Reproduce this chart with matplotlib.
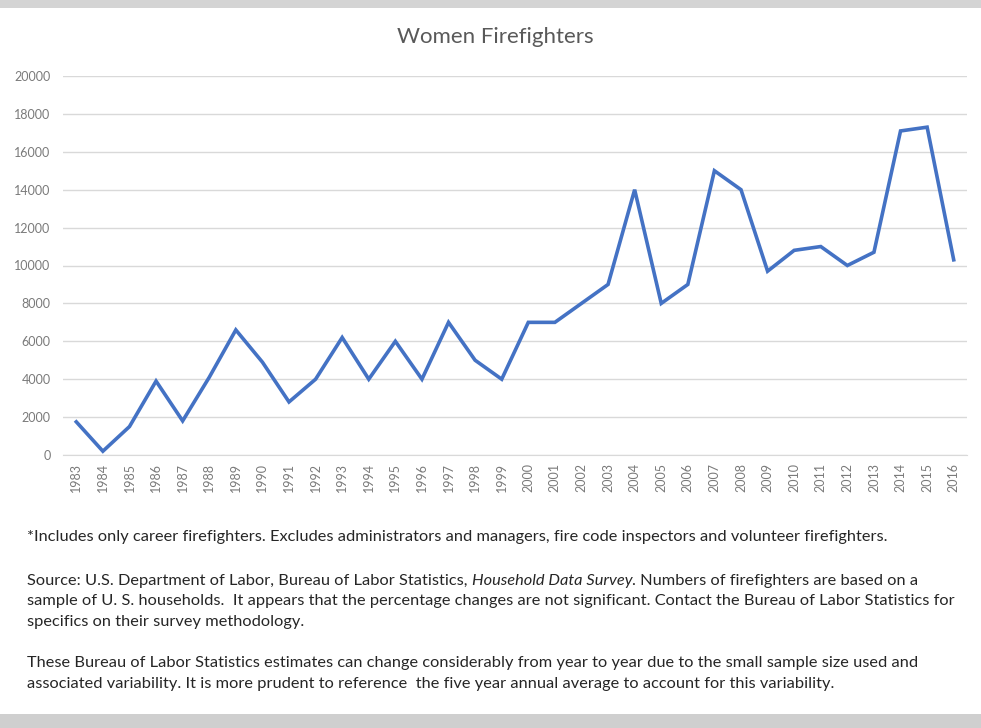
import matplotlib

matplotlib.use("Agg")
import matplotlib.pyplot as plt
from matplotlib.patches import Rectangle

years = [str(y) for y in range(1983, 2017)]
women = [1750, 200, 1500, 3900, 1800, 4100, 6600, 4900, 2800, 4000,
         6200, 4000, 6000, 4000, 7000, 5000, 4000, 7000, 7000, 8000,
         9000, 14000, 8000, 9000, 15000, 14000, 9700, 10800, 11000, 10000,
         10700, 17100, 17300, 10300]
y_ticks = list(range(0, 20001, 2000))

title = "Women Firefighters"
note_line = ("*Includes only career firefighters. Excludes administrators and managers, "
             "fire code inspectors and volunteer firefighters.")
source_head = "Source: U.S. Department of Labor, Bureau of Labor Statistics, "
source_italic = "Household Data Survey"
source_tail = ". Numbers of firefighters are based on a"
source_lines = [
    "sample of U. S. households.  It appears that the percentage changes are not significant. "
    "Contact the Bureau of Labor Statistics for",
    "specifics on their survey methodology.",
]
caution_lines = [
    "These Bureau of Labor Statistics estimates can change considerably from year to year "
    "due to the small sample size used and",
    "associated variability. It is more prudent to reference  the five year annual average "
    "to account for this variability.",
]

W, H = 981, 728
fig = plt.figure(figsize=(W / 100, H / 100), dpi=100)
fig.patch.set_facecolor("white")

# grey frame strips of the screenshot
fig.patches.append(Rectangle((0, 1 - 8 / H), 1, 8 / H, transform=fig.transFigure,
                             facecolor="#d4d4d4", edgecolor="none"))
fig.patches.append(Rectangle((0, 0), 1, 14 / H, transform=fig.transFigure,
                             facecolor="#cfcfcf", edgecolor="none"))

ax = fig.add_axes([63 / W, (H - 455) / H, (967 - 63) / W, (455 - 76) / H])
x = list(range(len(years)))
ax.plot(x, women, color="#4472c4", linewidth=2.6, solid_joinstyle="miter")
ax.set_xlim(-0.5, len(years) - 0.5)
ax.set_ylim(0, 20000)
ax.set_yticks(y_ticks)
ax.set_yticklabels([str(v) for v in y_ticks])
ax.set_xticks(x)
ax.set_xticklabels(years, rotation=90)
ax.tick_params(axis="both", length=0, labelsize=9, labelcolor="#7a7a7a")
ax.tick_params(axis="y", pad=9)
ax.tick_params(axis="x", pad=6)
for lbl in ax.get_xticklabels() + ax.get_yticklabels():
    lbl.set_family("Lato")
ax.grid(axis="y", color="#d9d9d9", linewidth=1)
ax.set_axisbelow(True)
for side in ("top", "right", "left"):
    ax.spines[side].set_visible(False)
ax.spines["bottom"].set_color("#d9d9d9")

fig.text(495 / W, 1 - 37 / H, title, ha="center", va="center",
         fontsize=16, color="#595959", family="Lato")

text_kw = dict(fontsize=11.8, color="#262626", family="Lato", va="center")
left = 27 / W
fig.text(left, 1 - 537 / H, note_line, **text_kw)

fig.canvas.draw()
renderer = fig.canvas.get_renderer()
y0 = 1 - 581 / H
t1 = fig.text(left, y0, source_head, **text_kw)
x_end = t1.get_window_extent(renderer).x1 / W
t2 = fig.text(x_end, y0, source_italic, style="italic", **text_kw)
x_end = t2.get_window_extent(renderer).x1 / W
fig.text(x_end, y0, source_tail, **text_kw)
for i, line in enumerate(source_lines):
    fig.text(left, 1 - (601 + 21 * i) / H, line, **text_kw)
for i, line in enumerate(caution_lines):
    fig.text(left, 1 - (663 + 21 * i) / H, line, **text_kw)

fig.savefig("out.png", dpi=100)
